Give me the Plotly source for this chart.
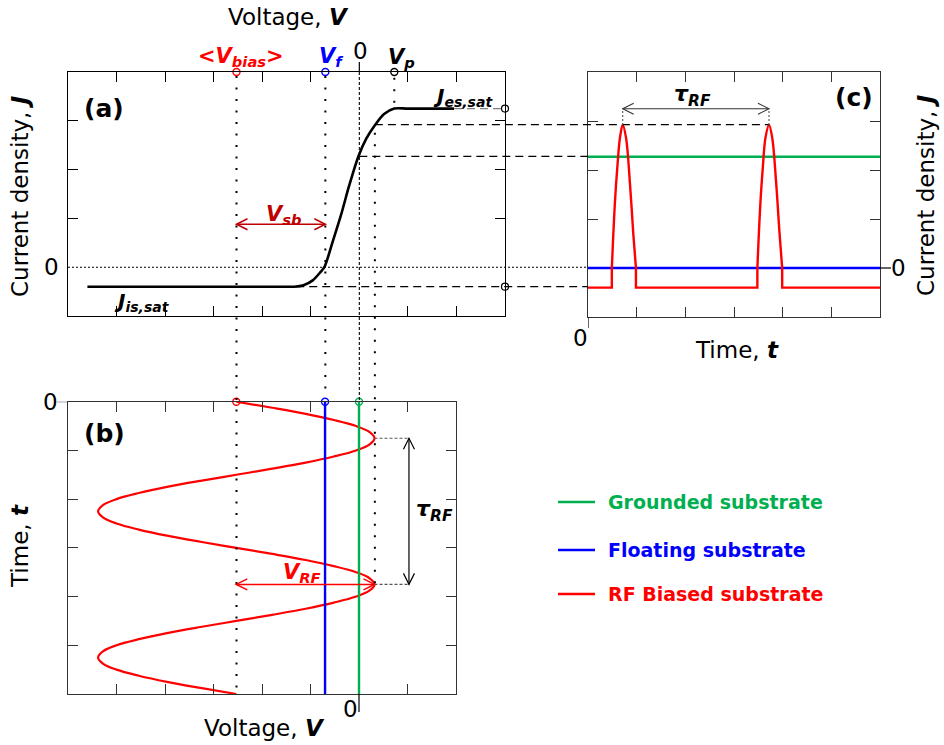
import math
import plotly.graph_objects as go

W, H = 944, 745
FONT = "DejaVu Sans"
RED, BLUE, GREEN, DARKRED = "#ff0000", "#0000ff", "#00b050", "#c00000"

# ---------------- data ----------------
V_BIAS = -2.53      # <V_bias>
V_FLOAT = -0.70     # V_f
V_PLASMA = 0.72     # V_p
V_RF_MAX = 0.32     # maximum of the RF voltage
V_KNEE = -1.30      # where the J_is,sat guide starts
V_ES_END = 1.95     # end of drawn J_es,sat plateau
J_ES_SAT = 3.25
J_IS_SAT = -0.40
J_PEAK = 2.92
J_GROUND = 2.27
J_FLOAT = 0.0
J_VSB = 0.88        # height of V_sb arrow
V_TAU = 1.03        # voltage position of tau_RF arrow in (b)
T_RF_PEAKS_B = [0.75, 3.75]      # times of RF maxima in (b)
T_PEAKS_C = [0.713, 3.719]       # current pulse maxima in (c)

# I-V characteristic, panel (a)
iv_voltage = [-5.6, -1.6, -1.34, -1.15, -0.96, -0.80, -0.72, -0.55, -0.38, -0.21,
              -0.02, 0.14, 0.32, 0.51, 0.72, 1.0, 1.95]
iv_current = [-0.40, -0.40, -0.40, -0.37, -0.27, -0.10, 0.0, 0.52, 1.06, 1.67,
              2.27, 2.63, 2.91, 3.14, 3.25, 3.25, 3.25]

# RF biased substrate voltage vs time, panel (b)
rf_time = [0, 0.125, 0.25, 0.375, 0.5, 0.625, 0.75, 0.875, 1.0, 1.125, 1.25, 1.375,
           1.5, 1.625, 1.75, 1.875, 2.0, 2.125, 2.25, 2.375, 2.5, 2.625, 2.75, 2.875,
           3.0, 3.125, 3.25, 3.375, 3.5, 3.625, 3.75, 3.875, 4.0, 4.125, 4.25, 4.375,
           4.5, 4.625, 4.75, 4.875, 5.0, 5.125, 5.25, 5.375, 5.5, 5.625, 5.75, 5.875, 6.0]
rf_voltage = [-2.53, -1.79, -1.10, -0.52, -0.06, 0.22, 0.32, 0.22, -0.06, -0.52, -1.10, -1.79,
              -2.53, -3.27, -3.96, -4.54, -5.00, -5.28, -5.38, -5.28, -5.00, -4.54, -3.96, -3.27,
              -2.53, -1.79, -1.10, -0.52, -0.06, 0.22, 0.32, 0.22, -0.06, -0.52, -1.10, -1.79,
              -2.53, -3.27, -3.96, -4.54, -5.00, -5.28, -5.38, -5.28, -5.00, -4.54, -3.96, -3.27,
              -2.53]

# RF biased substrate current vs time, panel (c)
base_time = [0, 0.49, 0.49, None, 0.985, 0.985, 3.48, 3.48, None, 3.99, 3.99, 6]
base_current = [-0.40, -0.40, 0, None, 0, -0.40, -0.40, 0, None, 0, -0.40, -0.40]
pulse1_time = [0.49, 0.52, 0.555, 0.602, 0.657, 0.713, 0.781, 0.863, 0.931, 0.985]
pulse2_time = [3.48, 3.51, 3.545, 3.592, 3.647, 3.719, 3.785, 3.868, 3.937, 3.99]
pulse_current = [0, 0.69, 1.37, 2.05, 2.66, 2.92, 2.66, 1.71, 0.69, 0]

legend_labels = ["Grounded substrate", "Floating substrate", "RF Biased substrate"]
legend_colors = [GREEN, BLUE, RED]

# ---------------- layout geometry (pixels) ----------------
PANEL = {
    "a": dict(x=(68, 505), y=(72, 316), xr=(-6, 3), yr=(-1, 4), xref="x", yref="y"),
    "b": dict(x=(68, 456), y=(401.7, 694), xr=(-6, 2), yr=(6, 0), xref="x2", yref="y2"),
    "c": dict(x=(588, 880), y=(72, 317), xr=(0, 6), yr=(-1, 4), xref="x3", yref="y3"),
}


def xpx(p, v):
    P = PANEL[p]
    return P["x"][0] + (v - P["xr"][0]) / (P["xr"][1] - P["xr"][0]) * (P["x"][1] - P["x"][0])


def ypx(p, v):
    P = PANEL[p]
    return P["y"][1] - (v - P["yr"][0]) / (P["yr"][1] - P["yr"][0]) * (P["y"][1] - P["y"][0])


def sx(p):
    P = PANEL[p]
    return (P["x"][1] - P["x"][0]) / (P["xr"][1] - P["xr"][0])


def sy(p):
    P = PANEL[p]
    return -(P["y"][1] - P["y"][0]) / (P["yr"][1] - P["yr"][0])


def fx(px):
    return px / W


def fy(py):
    return 1 - py / H


shapes = []
anns = []


def line(xref, yref, x0, y0, x1, y1, color="black", width=1.0, dash="solid"):
    shapes.append(dict(type="line", xref=xref, yref=yref, x0=x0, y0=y0, x1=x1, y1=y1,
                       line=dict(color=color, width=width, dash=dash), layer="above"))


def arrow(p, x0, y0, x1, y1, color="black", width=1.3, L=11, hw=5.5):
    P = PANEL[p]
    line(P["xref"], P["yref"], x0, y0, x1, y1, color, width)
    ax, ay = sx(p), sy(p)
    dxp, dyp = (x1 - x0) * ax, (y1 - y0) * ay
    n = math.hypot(dxp, dyp)
    ux, uy = dxp / n, dyp / n
    for (tx, ty, dx, dy) in [(x1, y1, ux, uy), (x0, y0, -ux, -uy)]:
        nx, ny = -dy, dx
        p1 = (tx + (-L * dx + hw * nx) / ax, ty + (-L * dy + hw * ny) / ay)
        p2 = (tx + (-L * dx - hw * nx) / ax, ty + (-L * dy - hw * ny) / ay)
        path = f"M {p1[0]},{p1[1]} L {tx},{ty} L {p2[0]},{p2[1]}"
        shapes.append(dict(type="path", xref=P["xref"], yref=P["yref"], path=path,
                           line=dict(color=color, width=width), layer="above"))


def text(s, px, py, size, color="black", angle=0, xanchor="center"):
    anns.append(dict(text=s, x=fx(px), y=fy(py), xref="paper", yref="paper",
                     showarrow=False, textangle=angle, xanchor=xanchor, yanchor="middle",
                     font=dict(size=size, color=color, family=FONT)))


fig = go.Figure()

# ---------- traces ----------
fig.add_trace(go.Scatter(x=iv_voltage, y=iv_current, mode="lines", xaxis="x", yaxis="y",
                         line=dict(color="black", width=2.6, shape="spline", smoothing=0.8)))
fig.add_trace(go.Scatter(x=rf_voltage, y=rf_time, mode="lines", xaxis="x2", yaxis="y2",
                         line=dict(color=RED, width=2.2, shape="spline", smoothing=1.0)))
fig.add_trace(go.Scatter(x=[V_FLOAT, V_FLOAT], y=[0, 6], mode="lines", xaxis="x2", yaxis="y2",
                         line=dict(color=BLUE, width=2.4)))
fig.add_trace(go.Scatter(x=[0, 0], y=[0, 6], mode="lines", xaxis="x2", yaxis="y2",
                         line=dict(color=GREEN, width=2.4)))
fig.add_trace(go.Scatter(x=[0, 6], y=[J_GROUND, J_GROUND], mode="lines", xaxis="x3", yaxis="y3",
                         line=dict(color=GREEN, width=2.4)))
fig.add_trace(go.Scatter(x=[0, 6], y=[J_FLOAT, J_FLOAT], mode="lines", xaxis="x3", yaxis="y3",
                         line=dict(color=BLUE, width=2.4)))
fig.add_trace(go.Scatter(x=base_time, y=base_current, mode="lines", xaxis="x3", yaxis="y3",
                         line=dict(color=RED, width=2.4)))
for pt in (pulse1_time, pulse2_time):
    fig.add_trace(go.Scatter(x=pt, y=pulse_current, mode="lines", xaxis="x3", yaxis="y3",
                             line=dict(color=RED, width=2.4, shape="spline", smoothing=1.0)))

# circles
fig.add_trace(go.Scatter(x=[V_BIAS, V_FLOAT, V_PLASMA], y=[4, 4, 4], mode="markers",
                         xaxis="x", yaxis="y", cliponaxis=False,
                         marker=dict(symbol="circle-open", size=7, color=[RED, BLUE, "black"],
                                     line=dict(width=1.4))))
fig.add_trace(go.Scatter(x=[3, 3], y=[J_ES_SAT, J_IS_SAT], mode="markers",
                         xaxis="x", yaxis="y", cliponaxis=False,
                         marker=dict(symbol="circle-open", size=7, color="black",
                                     line=dict(width=1.2))))
fig.add_trace(go.Scatter(x=[V_BIAS, V_FLOAT, 0], y=[0, 0, 0], mode="markers",
                         xaxis="x2", yaxis="y2", cliponaxis=False,
                         marker=dict(symbol="circle-open", size=7, color=[RED, BLUE, GREEN],
                                     line=dict(width=1.4))))

# ---------- guide lines ----------
DOTS = "2px,9.5px"
LDASH = "8px,5px"
# vertical dotted guides
line("x", "paper", V_BIAS, fy(76), V_BIAS, fy(PANEL["b"]["y"][1]), width=2, dash=DOTS)
line("x", "paper", V_FLOAT, fy(76), V_FLOAT, fy(PANEL["b"]["y"][0] - 4), width=2, dash=DOTS)
line("x", "y", V_PLASMA, 3.88, V_PLASMA, J_ES_SAT + 0.1, width=2, dash=DOTS)
line("x", "paper", V_RF_MAX, fy(ypx("a", J_PEAK) + 8), V_RF_MAX, fy(ypx("b", T_RF_PEAKS_B[1])),
     width=2, dash=DOTS)
# V = 0 line
line("x", "paper", 0, fy(62), 0, fy(72), width=1.2)
line("x", "paper", 0, fy(72), 0, fy(PANEL["b"]["y"][0]), width=1.1, dash="3px,2px")
line("x2", "paper", 0, fy(694), 0, fy(712), width=1.2)
# horizontal guides
line("paper", "y", fx(68), 0, fx(588), 0, width=1.1, dash="2px,2px")
line("x", "y", V_ES_END, J_ES_SAT, 3, J_ES_SAT, color="#7f7f7f", width=1.4, dash=LDASH)
line("paper", "y", fx(xpx("a", V_RF_MAX)), J_PEAK, fx(xpx("c", T_PEAKS_C[1])), J_PEAK,
     width=1.3, dash=LDASH)
line("paper", "y", fx(xpx("a", 0)), J_GROUND, fx(588), J_GROUND, width=1.3, dash=LDASH)
line("paper", "y", fx(xpx("a", V_KNEE)), J_IS_SAT, fx(588), J_IS_SAT, width=1.3, dash=LDASH)
# axis extensions
line("paper", "y3", fx(880), 0, fx(891), 0, width=1.2)
line("x3", "paper", 0, fy(317), 0, fy(328), width=1.2)
line("paper", "y2", fx(57), 0, fx(68), 0, width=1.2, color="#555555")

# arrows
arrow("a", V_BIAS, J_VSB, V_FLOAT, J_VSB, color=DARKRED, width=1.5)
arrow("b", V_BIAS, T_RF_PEAKS_B[1], V_RF_MAX, T_RF_PEAKS_B[1], color=RED, width=1.5)
arrow("b", V_TAU, T_RF_PEAKS_B[0], V_TAU, T_RF_PEAKS_B[1], color="black", width=1.2)
for tb in T_RF_PEAKS_B:
    line("x2", "y2", V_RF_MAX, tb, V_TAU, tb, color="#555555", width=1.1, dash="3px,2px")
arrow("c", T_PEAKS_C[0], J_ES_SAT, T_PEAKS_C[1], J_ES_SAT, color="#333333", width=1.1)
for tc in T_PEAKS_C:
    line("x3", "y3", tc, J_PEAK, tc, J_ES_SAT, color="#555555", width=1.1, dash="2px,2px")

# legend
for i, (lab, col) in enumerate(zip(legend_labels, legend_colors)):
    yy = [502, 550, 594][i]
    shapes.append(dict(type="line", xref="paper", yref="paper", x0=fx(558), x1=fx(595),
                       y0=fy(yy), y1=fy(yy), line=dict(color=col, width=2.4)))
    text(f"<b>{lab}</b>", 606, yy, 19, color=col, xanchor="left")

# ---------- text ----------
BI = lambda s: f"<b><i>{s}</i></b>"
text("Voltage, " + BI("V"), 288, 17, 23)
text("Voltage, " + BI("V"), 264, 728, 23)
text("Current density, " + BI("J"), 20, 196, 23, angle=-90)
text("Current density, " + BI("J"), 926, 195, 23, angle=-90)
text("Time, " + BI("t"), 20, 546, 23, angle=-90)
text("Time, " + BI("t"), 737, 350, 23)
text("0", 360, 51, 23)
text("0", 51, 267, 23)
text("0", 50, 402, 23)
text("0", 350, 709, 23)
text("0", 580, 338, 23)
text("0", 898, 268, 23)
text("<b>(a)</b>", 104, 108, 25)
text("<b>(b)</b>", 104, 433, 25)
text("<b>(c)</b>", 854, 98, 25)
text(BI("&lt;V<sub>bias</sub>&gt;"), 241, 57, 21, color=RED)
text(BI("V<sub>f</sub>"), 331, 57, 21, color=BLUE)
text(BI("V<sub>p</sub>"), 401, 58, 21)
text(BI("J<sub>es,sat</sub>"), 463, 97, 20)
text(BI("J<sub>is,sat</sub>"), 142, 302, 20)
text(BI("V<sub>sb</sub>"), 284, 215, 21, color=DARKRED)
text(BI("V<sub>RF</sub>"), 302, 573, 21, color=RED)
text(BI("τ<sub>RF</sub>"), 414, 510, 22, xanchor="left")
text(BI("τ<sub>RF</sub>"), 692, 95, 22)


def axis(p, which, tickvals, color="black"):
    P = PANEL[p]
    if which == "x":
        dom = [fx(P["x"][0]), fx(P["x"][1])]
        rng = list(P["xr"])
        anchor = P["yref"]
    else:
        dom = [fy(P["y"][1]), fy(P["y"][0])]
        rng = list(P["yr"])
        anchor = P["xref"]
    return dict(domain=dom, range=rng, anchor=anchor, tickvals=tickvals, ticks="inside",
                ticklen=10, tickwidth=1.2, tickcolor=color, showline=True, linecolor=color,
                linewidth=1.3, mirror="ticks", showgrid=False, zeroline=False,
                showticklabels=False, fixedrange=True)


fig.update_layout(
    width=W, height=H, autosize=False, showlegend=False,
    margin=dict(l=0, r=0, t=0, b=0),
    paper_bgcolor="white", plot_bgcolor="rgba(0,0,0,0)",
    font=dict(family=FONT, color="black"),
    xaxis=axis("a", "x", [-5, -4, -3, -2, -1, 1, 2]),
    yaxis=axis("a", "y", [1, 2, 3]),
    xaxis2=axis("b", "x", [-5, -4, -3, -2, -1, 1], color="#333333"),
    yaxis2=axis("b", "y", [1, 2, 3, 4, 5], color="#333333"),
    xaxis3=axis("c", "x", [1, 2, 3, 4, 5], color="#333333"),
    yaxis3=axis("c", "y", [1, 2, 3], color="#333333"),
    shapes=shapes, annotations=anns,
)

fig.write_html("out.html")
